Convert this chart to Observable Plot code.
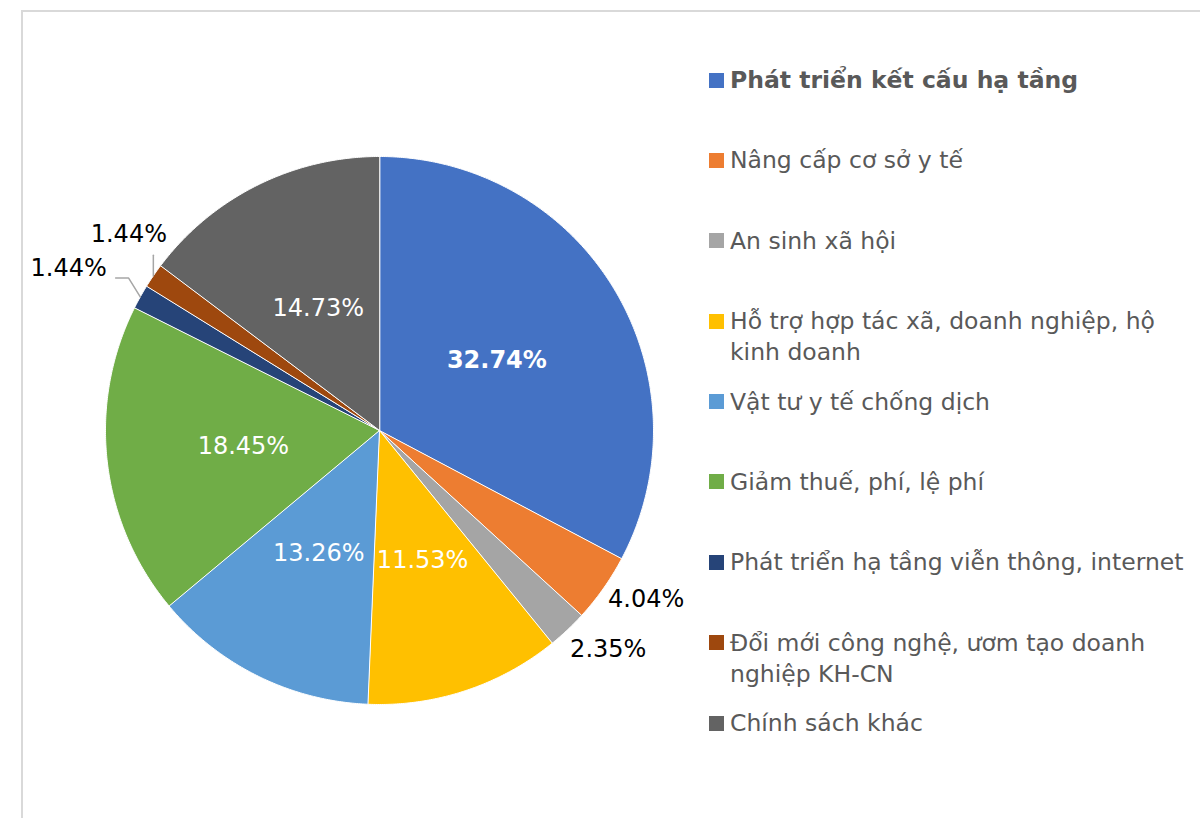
<!DOCTYPE html>
<html>
<head>
<meta charset="utf-8">
<script src="https://cdn.jsdelivr.net/npm/d3@7"></script>
<script src="https://cdn.jsdelivr.net/npm/@observablehq/plot@0.6"></script>
<style>
  html, body { margin: 0; padding: 0; background: #fff; }
  #wrap { position: relative; width: 1200px; height: 818px; overflow: hidden; font-family: "DejaVu Sans", sans-serif; }
  #frame { position: absolute; left: 21px; top: 10px; width: 1200px; height: 830px; border: 2px solid #d9d9d9; box-sizing: border-box; }
  #chart { position: absolute; left: 0; top: 0; }
  #legend { position: absolute; left: 709px; top: 65px; width: 488px; }
  .item { display: flex; align-items: flex-start; height: 80.4px; }
  .sw { width: 15px; height: 15px; margin-top: 7.5px; margin-right: 6px; flex: none; }
  .lab { font-size: 23.5px; line-height: 31px; color: #595959; }
</style>
</head>
<body>
<div id="wrap">
  <div id="frame"></div>
  <div id="chart"></div>
  <div id="legend"></div>
</div>
<script>
// ---- data ----
const categories = [
  "Phát triển kết cấu hạ tầng",
  "Nâng cấp cơ sở y tế",
  "An sinh xã hội",
  "Hỗ trợ hợp tác xã, doanh nghiệp, hộ kinh doanh",
  "Vật tư y tế chống dịch",
  "Giảm thuế, phí, lệ phí",
  "Phát triển hạ tầng viễn thông, internet",
  "Đổi mới công nghệ, ươm tạo doanh nghiệp KH-CN",
  "Chính sách khác"
];
const values = [32.74, 4.04, 2.35, 11.53, 13.26, 18.45, 1.44, 1.44, 14.73];
const colors = ["#4472C4", "#ED7D31", "#A5A5A5", "#FFC000", "#5B9BD5", "#70AD47", "#264478", "#9E480E", "#636363"];

// ---- layout (label placement relative to slice mid-angle) ----
const labelR = [0.5, 1.151, 1.154, 0.5, 0.5, 0.5, 1.28, 1.162, 0.5];
const labelDA = [0, -2.9, -3, 0, 0, 0, -1.6, 3.7, 0];

const total = d3.sum(values);
const rad = Math.PI / 180;
let cum = 0;
const slices = values.map((v, i) => {
  const a0 = cum / total * 360;
  cum += v;
  const a1 = cum / total * 360;
  return {i, cat: categories[i], value: v, a0, a1, mid: (a0 + a1) / 2};
});
const pt = (deg, r) => ({x: r * Math.sin(deg * rad), y: r * Math.cos(deg * rad)});

const piePts = [];
for (const s of slices) {
  piePts.push({cat: s.cat, ...pt(0, 0)});
  const n = Math.max(2, Math.ceil((s.a1 - s.a0) / 0.4));
  for (let k = 0; k <= n; k++) piePts.push({cat: s.cat, ...pt(s.a0 + (s.a1 - s.a0) * k / n, 1)});
}

const labels = slices.map(s => ({
  i: s.i,
  text: s.value.toFixed(2) + "%",
  inside: labelR[s.i] < 1,
  ...pt(s.mid + labelDA[s.i], labelR[s.i])
}));

// leader lines for the two small slices
const px = 1 / 274;
const leaders = [];
{
  const s = slices[6], L = labels[6], p = pt(s.mid, 1);
  leaders.push({k: 6, x: p.x, y: p.y});
  leaders.push({k: 6, x: L.x + 60 * px, y: L.y - 10 * px});
  leaders.push({k: 6, x: L.x + 47 * px, y: L.y - 10 * px});
}
{
  const s = slices[7], L = labels[7], p = pt(s.mid, 1);
  leaders.push({k: 7, x: p.x, y: p.y});
  leaders.push({k: 7, x: p.x, y: L.y - 21 * px});
}

const font = "DejaVu Sans, sans-serif";
const chart = Plot.plot({
  width: 1200,
  height: 818,
  margin: 0,
  style: {background: "transparent", overflow: "visible"},
  x: {domain: [-1, 1], range: [105, 653], axis: null},
  y: {domain: [-1, 1], range: [704, 156], axis: null},
  color: {domain: categories, range: colors},
  marks: [
    Plot.line(piePts, {x: "x", y: "y", z: "cat", fill: "cat", stroke: "#fff", strokeWidth: 1, curve: "linear-closed"}),
    Plot.line(leaders, {x: "x", y: "y", z: "k", stroke: "#a6a6a6", strokeWidth: 1.5}),
    Plot.text(labels.filter(d => d.inside && d.i === 0), {x: "x", y: "y", text: "text", fill: "#fff", fontSize: 24, fontWeight: "bold", fontFamily: font}),
    Plot.text(labels.filter(d => d.inside && d.i !== 0), {x: "x", y: "y", text: "text", fill: "#fff", fontSize: 24, fontFamily: font}),
    Plot.text(labels.filter(d => !d.inside), {x: "x", y: "y", text: "text", fill: "#000", fontSize: 24, fontFamily: font})
  ]
});
document.getElementById("chart").appendChild(chart);

// legend
const lg = document.getElementById("legend");
categories.forEach((c, i) => {
  const item = document.createElement("div");
  item.className = "item";
  const sw = document.createElement("div");
  sw.className = "sw";
  sw.style.background = colors[i];
  const lab = document.createElement("div");
  lab.className = "lab";
  lab.textContent = c;
  if (i === 0) lab.style.fontWeight = "bold";
  item.appendChild(sw);
  item.appendChild(lab);
  lg.appendChild(item);
});
</script>
</body>
</html>
